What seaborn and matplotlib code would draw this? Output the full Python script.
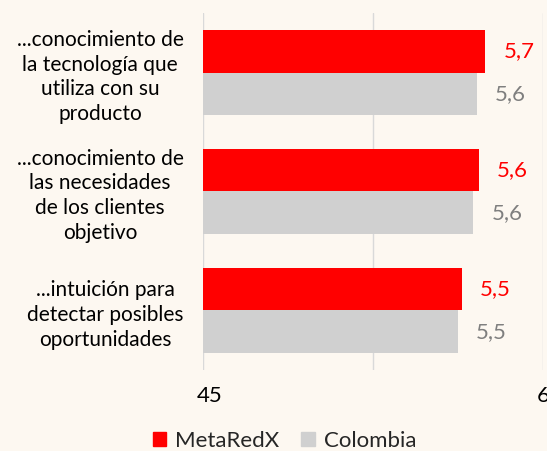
import pandas as pd
import seaborn as sns
import matplotlib.pyplot as plt
from matplotlib.transforms import ScaledTranslation

# Datos
categorias = [
    '...conocimiento de\nla tecnología que\nutiliza con su\nproducto',
    '...conocimiento de\nlas necesidades\nde los clientes\nobjetivo',
    '...intuición para\ndetectar posibles\noportunidades',
]
metaredx = [5.66, 5.62, 5.52]
colombia = [5.61, 5.59, 5.50]
series = ['MetaRedX', 'Colombia']

df = pd.DataFrame({
    'categoria': categorias * 2,
    'valor': metaredx + colombia,
    'serie': [series[0]] * 3 + [series[1]] * 3,
})

fondo = '#FDF8F1'
sns.set_theme(style='white')
plt.rcParams['font.family'] = ['Lato', 'DejaVu Sans']

fig = plt.figure(figsize=(5.47, 4.51), dpi=100, facecolor=fondo)
ax = fig.add_axes([0.371, 0.180, 0.622, 0.791], facecolor=fondo)

sns.barplot(
    data=df, x='valor', y='categoria', hue='serie', orient='h',
    palette={'MetaRedX': '#FF0000', 'Colombia': '#D0D0D0'},
    width=0.72, saturation=1, linewidth=0, ax=ax, legend=False,
)

# Etiquetas de valor
colores_txt = ['#FF0000', '#7F7F7F']
for cont, vals, c in zip(ax.containers, [metaredx, colombia], colores_txt):
    ax.bar_label(cont, labels=[f'{v:.1f}'.replace('.', ',') for v in vals],
                 padding=13, color=c, fontsize=16)

ax.set_xlim(4, 6)
ax.set_ylim(2.5, -0.5)
ax.set_xticks([4, 5, 6])
ax.set_xticklabels(['45', '', '6'], fontsize=16, color='#000000')
ax.tick_params(axis='x', length=0, pad=12)
ax.tick_params(axis='y', length=0, pad=14, labelsize=15)
xl = ax.get_xticklabels()
xl[0].set_transform(xl[0].get_transform() + ScaledTranslation(0.07, 0, fig.dpi_scale_trans))
for t in ax.get_yticklabels():
    t.set_multialignment('center')
    t.set_linespacing(1.3)
    t.set_color('#000000')
ax.set_xlabel('')
ax.set_ylabel('')
ax.grid(axis='x', color='#D9D9D9', linewidth=1)
ax.set_axisbelow(True)
for s in ax.spines.values():
    s.set_visible(False)

# Leyenda
h = [plt.Rectangle((0, 0), 1, 1, color='#FF0000'),
     plt.Rectangle((0, 0), 1, 1, color='#D0D0D0')]
fig.legend(h, series, loc='center', bbox_to_anchor=(0.52, 0.022), ncol=2,
           frameon=False, fontsize=16, handlelength=0.6, handleheight=0.6,
           handletextpad=0.4, columnspacing=1.0)

fig.savefig('out.png', dpi=100, facecolor=fondo)
